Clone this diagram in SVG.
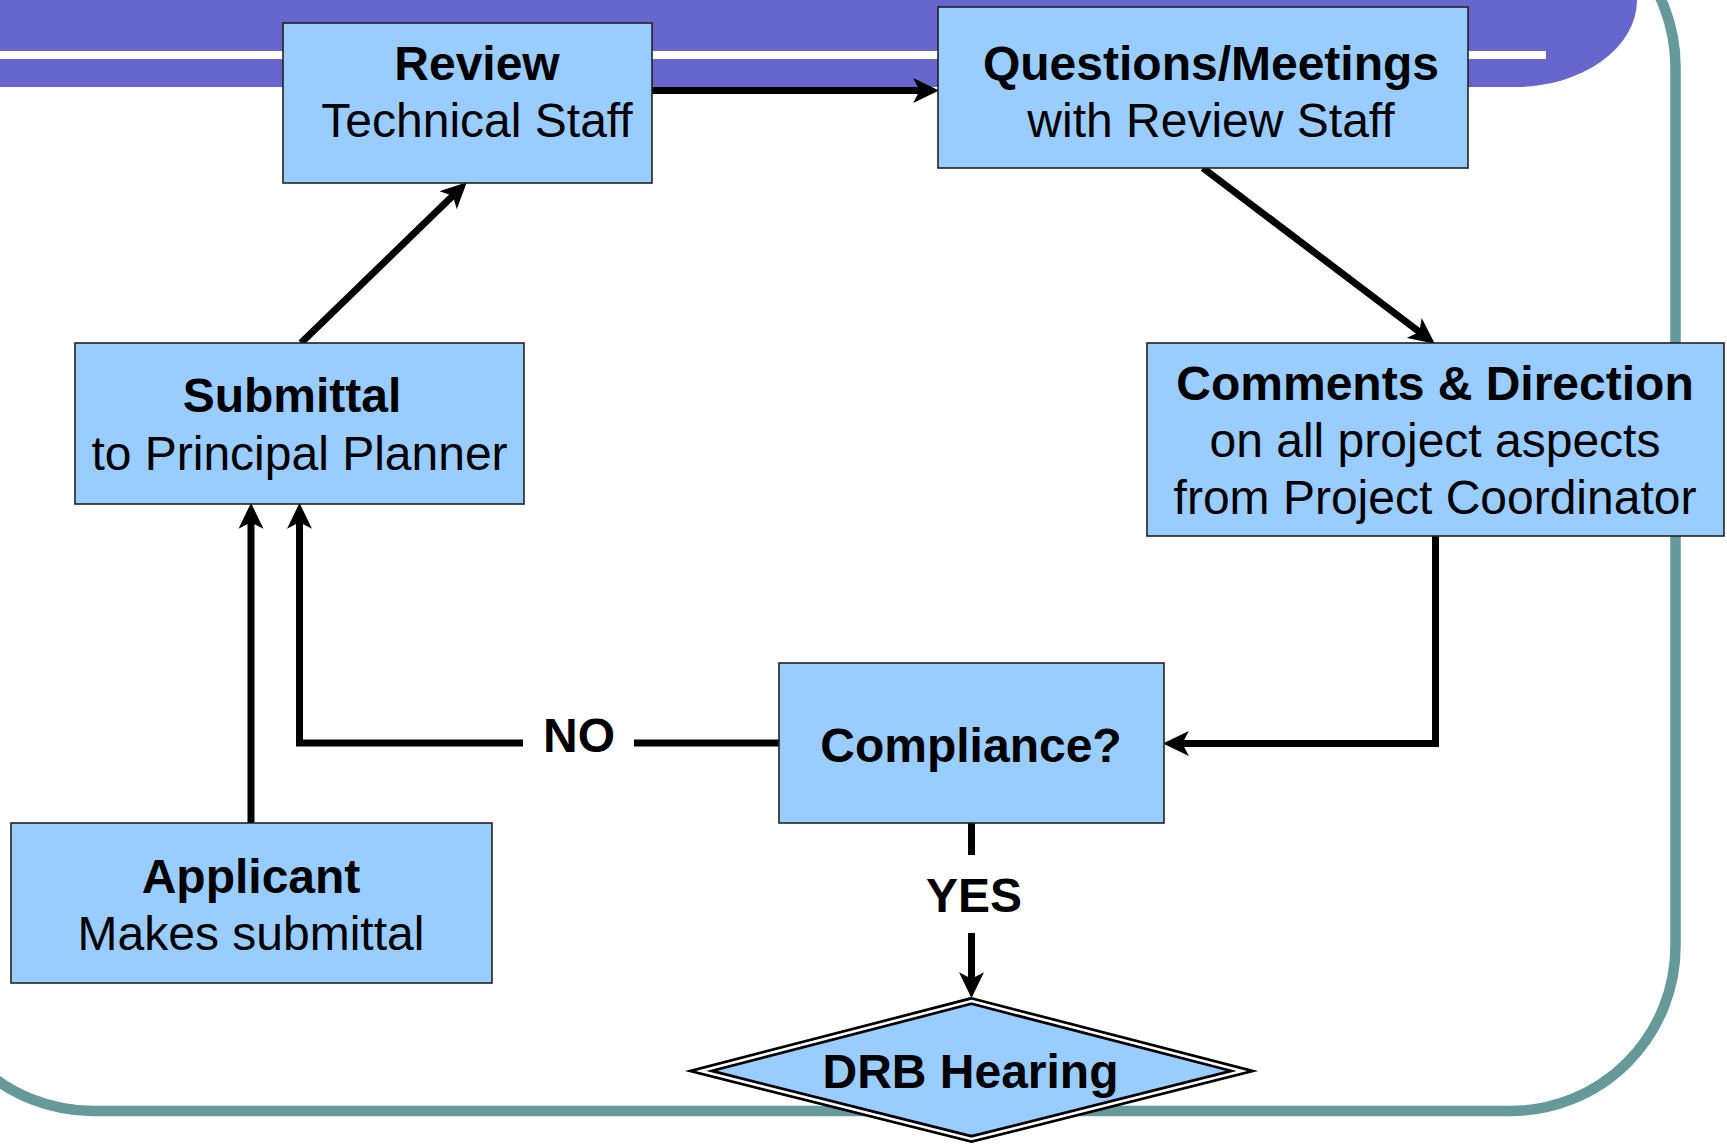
<svg xmlns="http://www.w3.org/2000/svg" width="1727" height="1145" viewBox="0 0 1727 1145">
  <style>
    .box { fill: #99CCFF; stroke: #222222; stroke-width: 1.6; }
    .t { font-family: "Liberation Sans", Arial, sans-serif; font-size: 48px; fill: #000000; text-anchor: middle; }
    .b { font-weight: bold; }
    .conn { fill: none; stroke: #000000; stroke-width: 7; stroke-linejoin: miter; stroke-linecap: butt; }
    .arrow { marker-end: url(#ah); }
  </style>
  <defs>
    <marker id="ah" markerUnits="userSpaceOnUse" markerWidth="26" markerHeight="26" viewBox="0 0 24 24" refX="10" refY="12" orient="auto">
      <path d="M24 12 L0 0.5 L6 12 L0 23.5 Z" fill="#000000"/>
    </marker>
  </defs>

  <g id="background">
    <path d="M0 0 H1637 A122 87 0 0 1 1515 87 H0 Z" fill="#6666CC"/>
    <rect x="0" y="51" width="1546" height="8" fill="#FFFFFF"/>
    <rect x="-72" y="-98" width="1747.5" height="1209" rx="165" ry="165" fill="none" stroke="#669999" stroke-width="10.5"/>
  </g>

  <g id="connectors">
    <path class="conn arrow" d="M652 90.5 H924"/>
    <path class="conn arrow" d="M301 343 L455.9 192.7"/>
    <path class="conn arrow" d="M1203 168 L1422.8 334.5"/>
    <path class="conn arrow" d="M1435.5 536 V743.5 H1178"/>
    <path class="conn" d="M779 743 H634"/>
    <path class="conn arrow" d="M523 743 H299.5 V518"/>
    <path class="conn arrow" d="M251 823 V518"/>
    <path class="conn" d="M971.5 823 V855"/>
    <path class="conn arrow" d="M971.5 933 V983"/>
    <text class="t b" x="579" y="752">NO</text>
    <text class="t b" x="974" y="912">YES</text>
  </g>

  <g id="node-review">
    <rect class="box" x="283" y="23" width="369" height="160"/>
    <text class="t b" x="477" y="80">Review</text>
    <text class="t" x="477" y="137">Technical Staff</text>
  </g>

  <g id="node-questions">
    <rect class="box" x="938" y="7" width="530" height="161"/>
    <text class="t b" x="1211" y="80">Questions/Meetings</text>
    <text class="t" x="1211" y="137">with Review Staff</text>
  </g>

  <g id="node-comments">
    <rect class="box" x="1147" y="343" width="577" height="193"/>
    <text class="t b" x="1435" y="400">Comments &amp; Direction</text>
    <text class="t" x="1435" y="457">on all project aspects</text>
    <text class="t" x="1435" y="514">from Project Coordinator</text>
  </g>

  <g id="node-submittal">
    <rect class="box" x="75" y="343" width="449" height="161"/>
    <text class="t b" x="292" y="412">Submittal</text>
    <text class="t" x="299.5" y="470">to Principal Planner</text>
  </g>

  <g id="node-compliance">
    <rect class="box" x="779" y="663" width="385" height="160"/>
    <text class="t b" x="971" y="762">Compliance?</text>
  </g>

  <g id="node-applicant">
    <rect class="box" x="11" y="823" width="481" height="160"/>
    <text class="t b" x="251" y="893">Applicant</text>
    <text class="t" x="251" y="950">Makes submittal</text>
  </g>

  <g id="node-drb">
    <path d="M971.5 1001 L1242 1071 L971.5 1139 L701 1071 Z" fill="#99CCFF" stroke="#000000" stroke-width="8" stroke-linejoin="miter" stroke-miterlimit="10"/>
    <path d="M971.5 1001 L1242 1071 L971.5 1139 L701 1071 Z" fill="none" stroke="#FFFFFF" stroke-width="2.6" stroke-linejoin="miter" stroke-miterlimit="10"/>
    <text class="t b" x="970.5" y="1088">DRB Hearing</text>
  </g>
</svg>
